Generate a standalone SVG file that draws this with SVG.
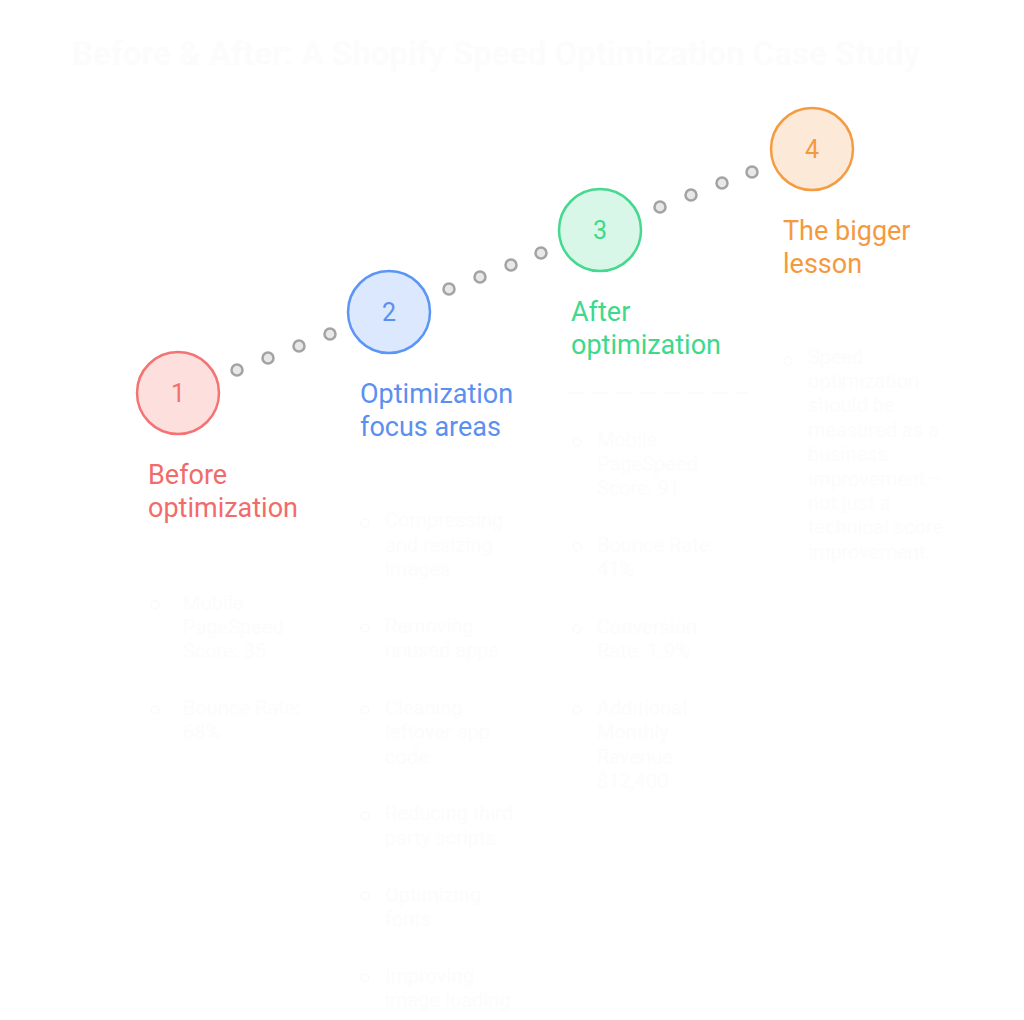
<svg xmlns="http://www.w3.org/2000/svg" width="1024" height="1020" viewBox="0 0 1024 1020">
<style>
.faint{font-family:Roboto,"Liberation Sans",sans-serif;font-size:20px;fill:#fcfcfc}
.fb{fill:none;stroke:#fafafa;stroke-width:1.5}
.title{font-family:Roboto,"Liberation Sans",sans-serif;font-size:33px;font-weight:bold;fill:#fcfcfc}
.num{font-family:Roboto,"Liberation Sans",sans-serif;font-size:25px;text-anchor:middle}
.lbl{font-family:Roboto,"Liberation Sans",sans-serif;font-size:27px}
.dot{fill:#e8e8e8;stroke:#a3a3a3;stroke-width:2.5}
</style>
<rect width="1024" height="1020" fill="#ffffff"/>
<text class="title" x="72" y="65">Before &amp; After: A Shopify Speed Optimization Case Study</text>
<g id="connectors">
<circle class="dot" cx="237" cy="370" r="5.5"/><circle class="dot" cx="268" cy="358" r="5.5"/><circle class="dot" cx="299" cy="346" r="5.5"/><circle class="dot" cx="330" cy="334" r="5.5"/>
<circle class="dot" cx="449" cy="289" r="5.5"/><circle class="dot" cx="480" cy="277" r="5.5"/><circle class="dot" cx="511" cy="265" r="5.5"/><circle class="dot" cx="541" cy="253" r="5.5"/>
<circle class="dot" cx="660" cy="207" r="5.5"/><circle class="dot" cx="691" cy="195" r="5.5"/><circle class="dot" cx="722" cy="183" r="5.5"/><circle class="dot" cx="752" cy="172" r="5.5"/>
</g>
<g id="node1">
<circle cx="178" cy="393" r="41" fill="#fde0de" stroke="#f47373" stroke-width="2.5"/>
<text class="num" x="178" y="402" fill="#f27070">1</text>
<text class="lbl" fill="#f26b6b"><tspan x="148" y="484">Before</tspan><tspan x="148" y="517">optimization</tspan></text>
<g class="faint"><circle class="fb" cx="155" cy="605" r="4"/><text><tspan x="183" y="610">Mobile</tspan><tspan x="183" y="634">PageSpeed</tspan><tspan x="183" y="658">Score: 35</tspan></text>
<circle class="fb" cx="155" cy="710" r="4"/><text><tspan x="183" y="715">Bounce Rate:</tspan><tspan x="183" y="739">68%</tspan></text></g>
</g>
<g id="node2">
<circle cx="389" cy="312" r="41" fill="#dbe8fd" stroke="#5b95f5" stroke-width="2.5"/>
<text class="num" x="389" y="321" fill="#5b8ff0">2</text>
<text class="lbl" fill="#5b8ff0"><tspan x="360" y="403">Optimization</tspan><tspan x="360" y="436">focus areas</tspan></text>
<g class="faint">
<circle class="fb" cx="365" cy="523" r="4"/><text><tspan x="385" y="527">Compressing</tspan><tspan x="385" y="552">and resizing</tspan><tspan x="385" y="576">images</tspan></text>
<circle class="fb" cx="365" cy="628" r="4"/><text><tspan x="385" y="633">Removing</tspan><tspan x="385" y="657">unused apps</tspan></text>
<circle class="fb" cx="365" cy="710" r="4"/><text><tspan x="385" y="715">Cleaning</tspan><tspan x="385" y="739">leftover app</tspan><tspan x="385" y="764">code</tspan></text>
<circle class="fb" cx="365" cy="816" r="4"/><text><tspan x="385" y="820">Reducing third</tspan><tspan x="385" y="845">party scripts</tspan></text>
<circle class="fb" cx="365" cy="896" r="4"/><text><tspan x="385" y="902">Optimizing</tspan><tspan x="385" y="926">fonts</tspan></text>
<circle class="fb" cx="365" cy="978" r="4"/><text><tspan x="385" y="983">Improving</tspan><tspan x="385" y="1007">image loading</tspan></text>
</g>
</g>
<g id="node3">
<circle cx="600" cy="230" r="41" fill="#d9f7e8" stroke="#45d98f" stroke-width="2.5"/>
<text class="num" x="600" y="239" fill="#3ed98a">3</text>
<text class="lbl" fill="#3ed98a"><tspan x="571" y="321">After</tspan><tspan x="571" y="354">optimization</tspan></text>
<line x1="568" y1="393" x2="748" y2="393" stroke="#fafafa" stroke-width="1.5" stroke-dasharray="16 8"/>
<g class="faint">
<circle class="fb" cx="577" cy="442" r="4"/><text><tspan x="597" y="447">Mobile</tspan><tspan x="597" y="471">PageSpeed</tspan><tspan x="597" y="495">Score: 91</tspan></text>
<circle class="fb" cx="577" cy="547" r="4"/><text><tspan x="597" y="552">Bounce Rate:</tspan><tspan x="597" y="576">41%</tspan></text>
<circle class="fb" cx="577" cy="629" r="4"/><text><tspan x="597" y="634">Conversion</tspan><tspan x="597" y="658">Rate: 1.9%</tspan></text>
<circle class="fb" cx="577" cy="710" r="4"/><text><tspan x="597" y="715">Additional</tspan><tspan x="597" y="739">Monthly</tspan><tspan x="597" y="764">Revenue:</tspan><tspan x="597" y="788">$12,400</tspan></text>
</g>
</g>
<g id="node4">
<circle cx="812" cy="149" r="41" fill="#fde9d8" stroke="#f59b42" stroke-width="2.5"/>
<text class="num" x="812" y="158" fill="#f5993f">4</text>
<text class="lbl" fill="#f5993f"><tspan x="783" y="240">The bigger</tspan><tspan x="783" y="273">lesson</tspan></text>
<g class="faint">
<circle class="fb" cx="788" cy="361" r="4"/><text><tspan x="808" y="364">Speed</tspan><tspan x="808" y="388">optimization</tspan><tspan x="808" y="412">should be</tspan><tspan x="808" y="437">measured as a</tspan><tspan x="808" y="461">business</tspan><tspan x="808" y="486">improvement—</tspan><tspan x="808" y="510">not just a</tspan><tspan x="808" y="534">technical score</tspan><tspan x="808" y="559">improvement.</tspan></text>
</g>
</g>
</svg>
